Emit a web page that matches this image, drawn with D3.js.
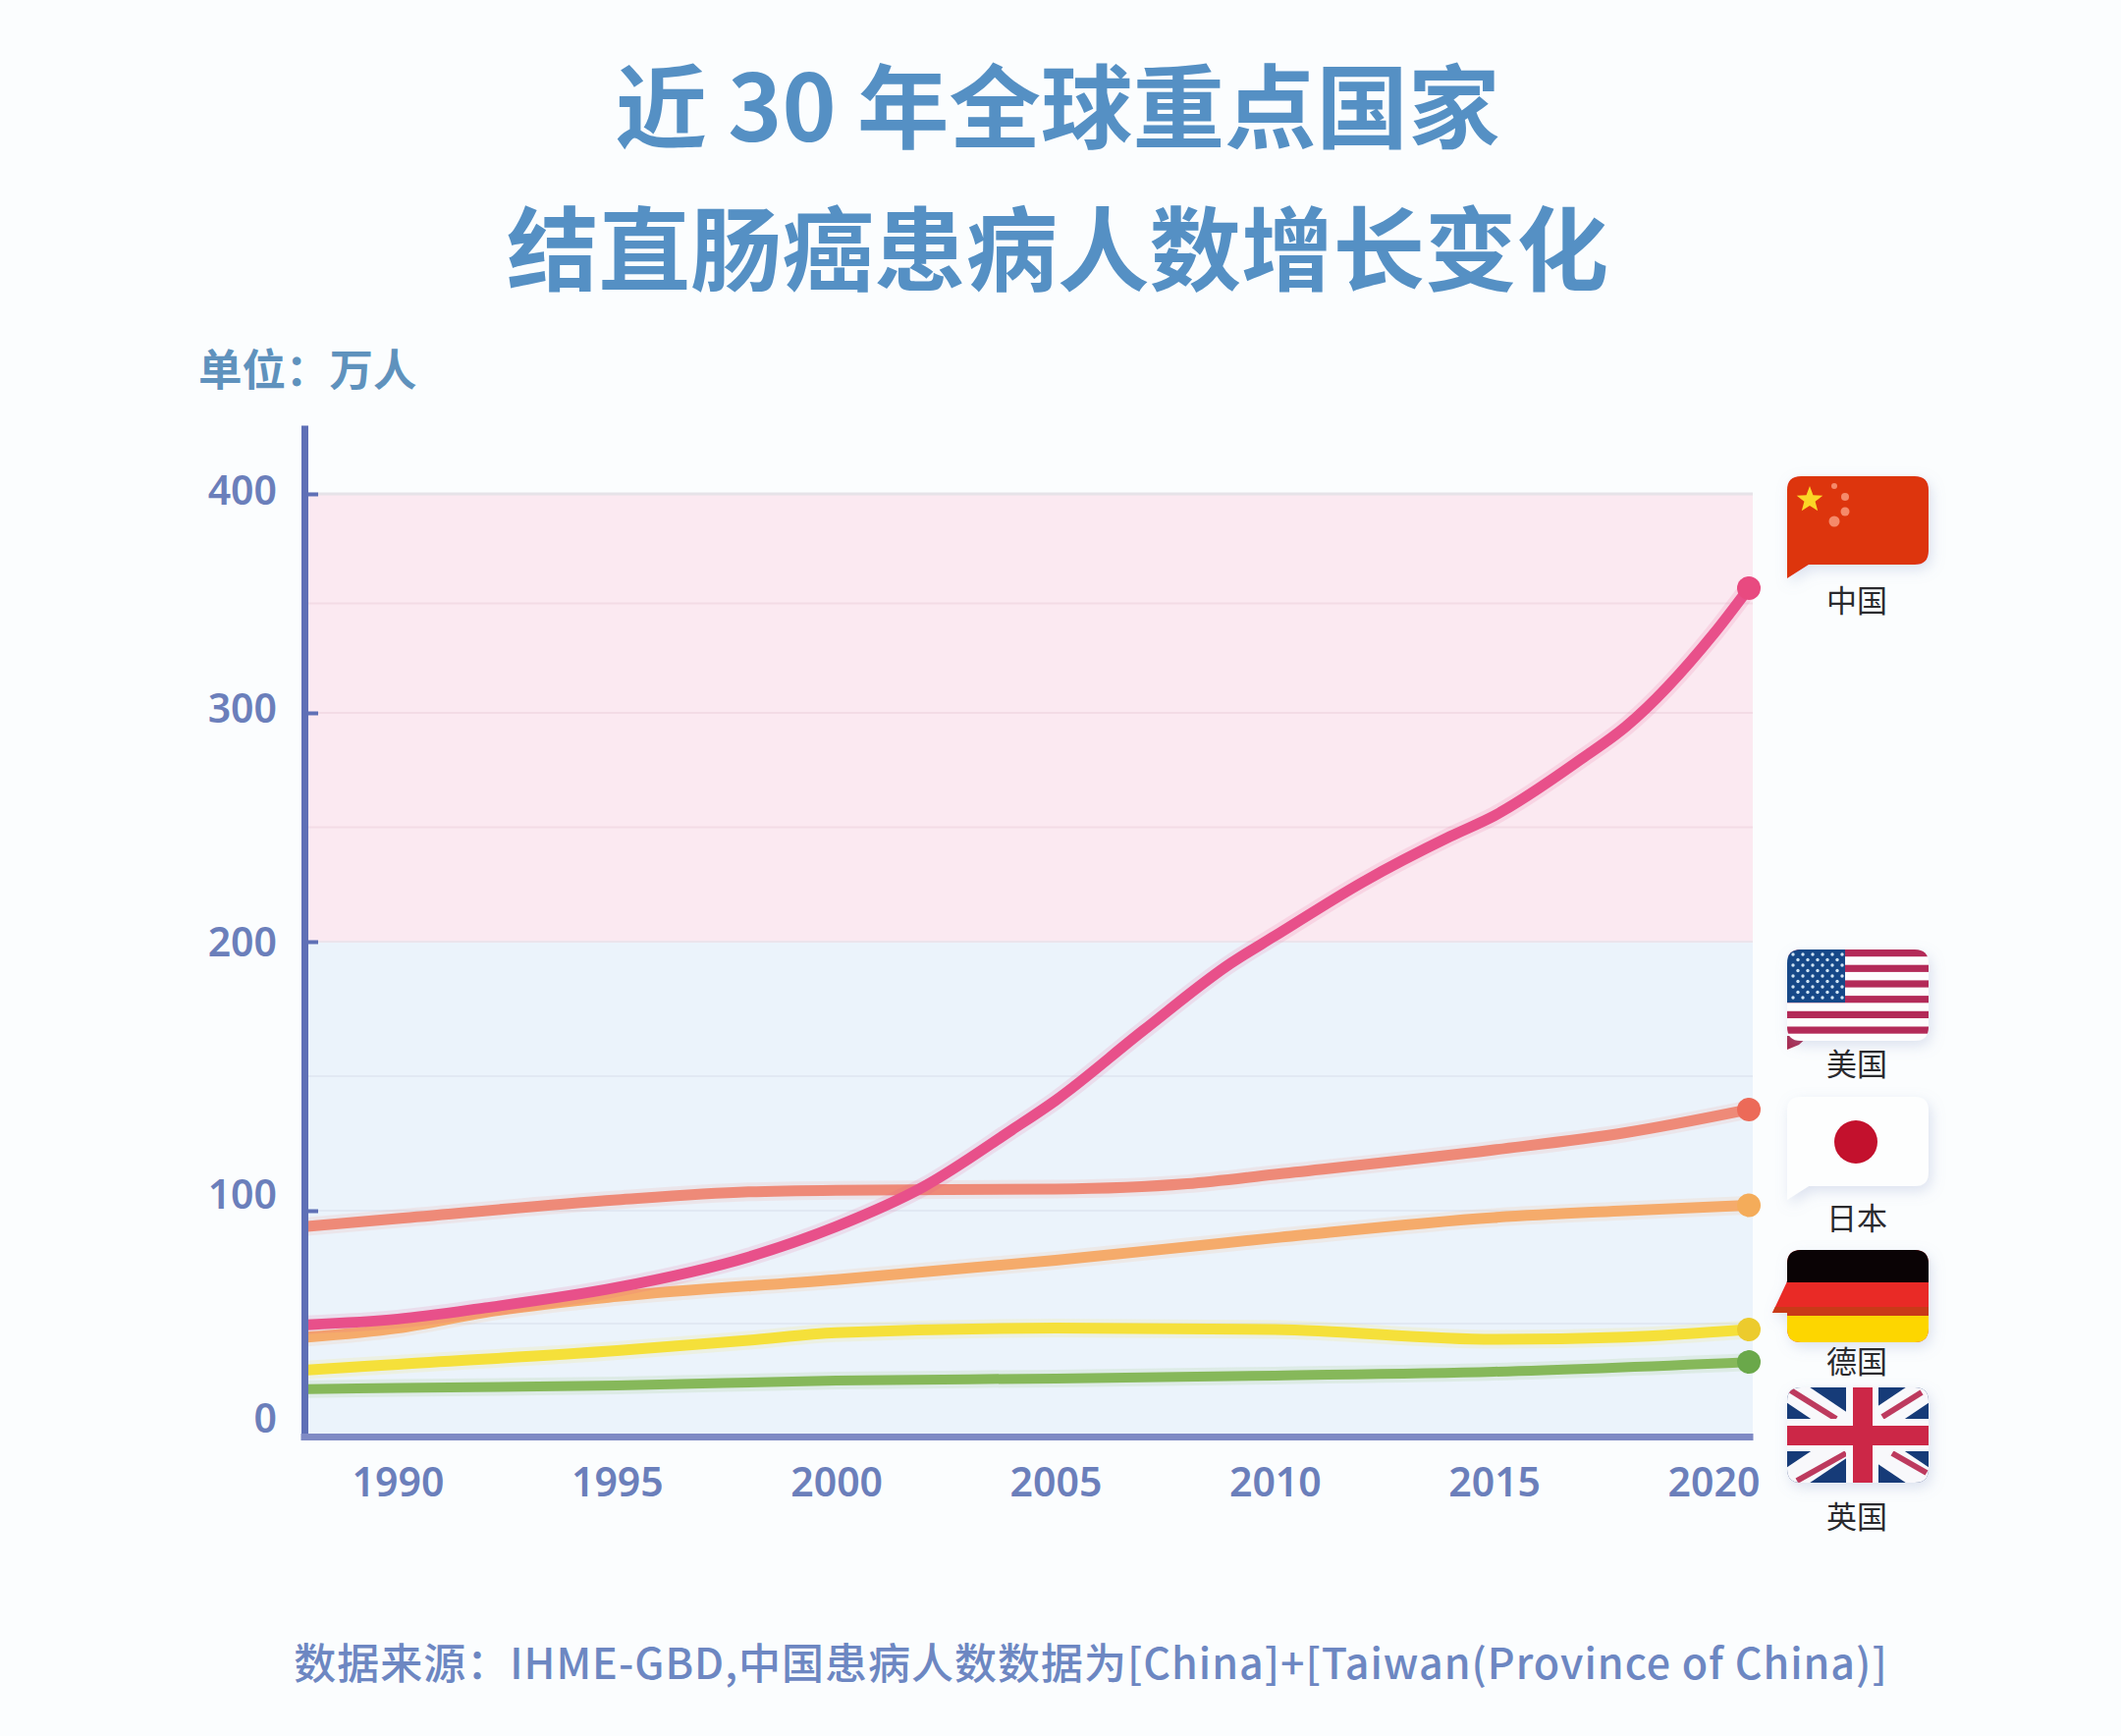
<!DOCTYPE html>
<html><head><meta charset="utf-8">
<script src="https://cdn.jsdelivr.net/npm/d3@7"></script>
<style>html,body{margin:0;padding:0;background:#fbfdfe}svg{display:block}</style>
</head><body><div id="chart"></div>
<script>
const titleLines = ["近 30 年全球重点国家", "结直肠癌患病人数增长变化"];
const unitLabel = "单位：万人";
const sourceNote = "数据来源：IHME-GBD,中国患病人数数据为[China]+[Taiwan(Province of China)]";

const yTickValues = [0, 100, 200, 300, 400];
const yTickLabelShift = [-19, -17, 0, -5, -4];
const xTickValues = [1990, 1995, 2000, 2005, 2010, 2015, 2020];
const gridValues = [50, 100, 150, 250, 300, 350];

const chinaYears = [1988,1990,1992,1995,1998,2000,2002,2004,2005,2007,2009,2010,2012,2014,2015,2017,2018,2020,2021];
const chinaValues = [49.5,52,57,66,79.5,93,109,130,141,167,192,202.5,226,246,255,280,294,336,357];
const usaYears = [1988,1990,1995,1998,2000,2005,2008,2010,2015,2018,2021];
const usaValues = [93,96.5,104,107,107.6,108,110,113.5,122.6,129,137.6];
const japanYears = [1988,1990,1992,1995,2000,2005,2010,2015,2018,2021];
const japanValues = [44,48,55,62,69.5,78,88,97,100,102];
const germanyYears = [1988,1990,1995,1998,2000,2005,2010,2015,2018,2021];
const germanyValues = [29.5,32,38,42.6,46,48,47.4,43,44,47.4];
const ukYears = [1988,1990,1995,2000,2005,2010,2015,2021];
const ukValues = [21,21.5,22.6,24.8,25.7,27,28.7,33];

const seriesList = [
  {name:"英国", years:ukYears, values:ukValues, line:"#86b85a", dot:"#6aa84a", w:10},
  {name:"德国", years:germanyYears, values:germanyValues, line:"#f5e03a", dot:"#eccb2d", w:11},
  {name:"日本", years:japanYears, values:japanValues, line:"#f5ab6b", dot:"#f4ac5a", w:11},
  {name:"美国", years:usaYears, values:usaValues, line:"#ee8a78", dot:"#ec6a58", w:11},
  {name:"中国", years:chinaYears, values:chinaValues, line:"#e8508a", dot:"#e84a80", w:11}
];

const W = 2160, H = 1768;
const svg = d3.select("#chart").append("svg").attr("width", W).attr("height", H);
const cjk = "'Noto Sans CJK SC','Noto Sans',sans-serif";
const numFont = "'Noto Sans','Noto Sans CJK SC',sans-serif";

const defs = svg.append("defs");
const sh = defs.append("filter").attr("id","shadow").attr("x","-20%").attr("y","-20%").attr("width","140%").attr("height","150%");
sh.append("feDropShadow").attr("dx",3).attr("dy",5).attr("stdDeviation",7).attr("flood-color","#8a9ac8").attr("flood-opacity",0.28);

// piecewise scales: the source axis is not evenly spaced
const x = d3.scaleLinear().domain([1987.85,1990,2020,2021,2021.1]).range([306,405,1745,1781,1785]);
const y = d3.scaleLinear().domain([0,100,200,300,400,431]).range([1463,1233,959,726,503,433]);

svg.append("rect").attr("width",W).attr("height",H).attr("fill","#fbfdfe");

// bands
svg.append("rect").attr("x",x(1988)).attr("width",x(2021.1)-x(1988)).attr("y",y(400)).attr("height",y(200)-y(400)).attr("fill","#fbe9f1");
svg.append("rect").attr("x",x(1988)).attr("width",x(2021.1)-x(1988)).attr("y",y(200)).attr("height",y(0)-y(200)).attr("fill","#ebf3fb");

// grid
svg.append("g").selectAll("line").data(gridValues).join("line")
  .attr("x1",x(1988)).attr("x2",x(2021.1)).attr("y1",d=>y(d)).attr("y2",d=>y(d))
  .attr("stroke",d=>d>200?"#f3dbe5":"#e1e8f3").attr("stroke-width",2);
svg.append("line").attr("x1",x(1988)).attr("x2",x(2021.1)).attr("y1",y(400)).attr("y2",y(400)).attr("stroke","#e6e3e8").attr("stroke-width",3);
svg.append("line").attr("x1",x(1988)).attr("x2",x(2021.1)).attr("y1",y(200)).attr("y2",y(200)).attr("stroke","#ece4ec").attr("stroke-width",2);

// lines
const lineGen = d3.line().x(d=>x(d[0])).y(d=>y(d[1])).curve(d3.curveMonotoneX);
const gs = svg.append("g").selectAll("g").data(seriesList).join("g");
gs.append("path").attr("d",s=>lineGen(d3.zip(s.years,s.values))).attr("fill","none")
  .attr("stroke",s=>s.line).attr("stroke-opacity",0.13).attr("stroke-width",s=>s.w+8);
gs.append("path").attr("d",s=>lineGen(d3.zip(s.years,s.values))).attr("fill","none")
  .attr("stroke",s=>s.line).attr("stroke-width",s=>s.w);
gs.append("circle").attr("cx",s=>x(s.years[s.years.length-1])).attr("cy",s=>y(s.values[s.values.length-1]))
  .attr("r",12).attr("fill",s=>s.dot);

// axes
const axisColor = "#5f70b6";
const gy = svg.append("g").attr("transform","translate(310,0)")
  .call(d3.axisLeft(y).tickValues(yTickValues).tickSizeInner(-14).tickSizeOuter(0).tickPadding(28));
gy.select(".domain").attr("stroke",axisColor).attr("stroke-width",7);
gy.selectAll(".tick line").attr("stroke",axisColor).attr("stroke-width",4).attr("x1",3);
gy.selectAll(".tick").filter(d=>d===0).select("line").remove();
gy.selectAll(".tick text").attr("fill","#6b7fbb").attr("font-family",numFont).attr("font-weight",600).attr("font-size",41)
  .attr("dy",(d,i)=>(yTickLabelShift[i]+14)+"px");

const gx = svg.append("g").attr("transform","translate(0,1463)")
  .call(d3.axisBottom(x).tickValues(xTickValues).tickFormat(d3.format("d")).tickSize(0).tickPadding(32));
gx.select(".domain").attr("stroke","#7f8ac4").attr("stroke-width",7);
gx.selectAll(".tick text").attr("fill","#6b7fbb").attr("font-family",numFont).attr("font-weight",600).attr("font-size",41);

// titles
svg.append("g").selectAll("text").data(titleLines).join("text")
  .attr("x",1077).attr("y",(d,i)=>144+i*145).attr("text-anchor","middle")
  .attr("font-family",cjk).attr("font-weight",700).attr("font-size",93.5).attr("fill","#5590c4").text(d=>d);
svg.append("text").attr("x",202).attr("y",393).attr("font-family",cjk).attr("font-weight",700)
  .attr("font-size",44.5).attr("fill","#5f92bd").text(unitLabel);
svg.append("text").attr("x",1111).attr("y",1710).attr("text-anchor","middle").attr("font-family",cjk).attr("font-weight",500)
  .attr("font-size",43).attr("letter-spacing",1).attr("fill","#6d87c2").text(sourceNote);

// flags
const fx=1820, fw=144;
function bubble(top,h,tail){
  const r=14, p=d3.path();
  p.moveTo(fx+r,top); p.lineTo(fx+fw-r,top); p.quadraticCurveTo(fx+fw,top,fx+fw,top+r);
  p.lineTo(fx+fw,top+h-r); p.quadraticCurveTo(fx+fw,top+h,fx+fw-r,top+h);
  if(tail==="bottom"){ p.lineTo(fx+22,top+h); p.lineTo(fx,top+h+14); p.lineTo(fx,top+r); }
  else if(tail==="left"){ p.lineTo(fx+r,top+h); p.quadraticCurveTo(fx,top+h,fx,top+h-r); p.lineTo(fx,top+64); p.lineTo(fx-15,top+64); p.lineTo(fx,top+32); p.lineTo(fx,top+r); }
  else { p.lineTo(fx+r,top+h); p.quadraticCurveTo(fx,top+h,fx,top+h-r); p.lineTo(fx,top+r); }
  p.quadraticCurveTo(fx,top,fx+r,top); p.closePath();
  return p.toString();
}
function flagGroup(id,top,h,tail,base){
  const g=svg.append("g");
  g.append("path").attr("d",bubble(top,h,tail)).attr("fill",base).attr("filter","url(#shadow)");
  defs.append("clipPath").attr("id",id).append("path").attr("d",bubble(top,h,tail));
  return g.append("g").attr("clip-path",`url(#${id})`);
}
function star(cx,cy,R){
  const pts=d3.range(10).map(i=>{const a=-Math.PI/2+i*Math.PI/5, r=i%2?R*0.42:R; return [cx+r*Math.cos(a),cy+r*Math.sin(a)];});
  return d3.line()(pts)+"Z";
}
// China
const cn=flagGroup("fCN",485,90,"bottom","#dd3511");
cn.append("path").attr("d",star(1843,509,14)).attr("fill","#fbd626");
[[1868,495,3],[1879,506,4],[1879,521,4.5],[1868,531,5.5]].forEach(c=>cn.append("circle").attr("cx",c[0]).attr("cy",c[1]).attr("r",c[2]).attr("fill","#f58a6a"));
// USA
svg.append("path").attr("d",`M${fx},1055L${fx+22},1055L${fx+12},1064L${fx},1069Z`).attr("fill","#a82a50");
const us=flagGroup("fUS",967,93,"none","#fdfcfd");
d3.range(6).forEach(i=>us.append("rect").attr("x",fx).attr("y",967+i*15.7).attr("width",fw).attr("height",7.2).attr("fill","#b32a58"));
us.append("rect").attr("x",fx).attr("y",967).attr("width",59).attr("height",54).attr("fill","#164888");
d3.range(9).forEach(r=>d3.range(r%2?5:6).forEach(c=>us.append("circle").attr("cx",fx+6+(r%2?5:0)+c*10).attr("cy",972+r*5.5).attr("r",1.7).attr("fill","#cfe4f5")));
// Japan
const jp=flagGroup("fJP",1117,91,"bottom","#fdfefe");
jp.append("circle").attr("cx",1890).attr("cy",1163).attr("r",22).attr("fill","#c3112d");
// Germany
const de=flagGroup("fDE",1273,94,"left","#e92a26");
de.append("rect").attr("x",fx-20).attr("y",1273).attr("width",fw+20).attr("height",33).attr("fill","#0a0305");
de.append("rect").attr("x",fx-20).attr("y",1331).attr("width",fw+20).attr("height",9).attr("fill","#c93a18");
de.append("rect").attr("x",fx-20).attr("y",1340).attr("width",fw+20).attr("height",27).attr("fill","#fdd600");
// UK
const gb=flagGroup("fGB",1413,97,"none","#123a78");
const g0={x1:fx,x2:fx+fw,y1:1413,y2:1510};
gb.append("line").attr("x1",g0.x1).attr("y1",g0.y1).attr("x2",g0.x2).attr("y2",g0.y2).attr("stroke","#f8f8fb").attr("stroke-width",26);
gb.append("line").attr("x1",g0.x1).attr("y1",g0.y2).attr("x2",g0.x2).attr("y2",g0.y1).attr("stroke","#f8f8fb").attr("stroke-width",26);
[[1822,1415,1870,1445],[1917,1443,1957,1418],[1830,1508,1880,1480],[1927,1480,1962,1500]].forEach(s=>
  gb.append("line").attr("x1",s[0]).attr("y1",s[1]).attr("x2",s[2]).attr("y2",s[3]).attr("stroke","#bd3a5e").attr("stroke-width",6));
gb.append("rect").attr("x",1880).attr("y",1413).attr("width",33).attr("height",97).attr("fill","#f8f8fb");
gb.append("rect").attr("x",fx).attr("y",1445).attr("width",fw).attr("height",33).attr("fill","#f8f8fb");
gb.append("rect").attr("x",1887).attr("y",1413).attr("width",20).attr("height",97).attr("fill","#cc2747");
gb.append("rect").attr("x",fx).attr("y",1452).attr("width",fw).attr("height",20).attr("fill","#cc2747");

// flag labels
const flagLabels=["中国","美国","日本","德国","英国"];
const flagLabelY=[623,1095,1252,1398,1556];
svg.append("g").selectAll("text").data(flagLabels).join("text")
  .attr("x",1891).attr("y",(d,i)=>flagLabelY[i]).attr("text-anchor","middle")
  .attr("font-family",cjk).attr("font-size",31).attr("fill","#2a2a2e").text(d=>d);
</script></body></html>
